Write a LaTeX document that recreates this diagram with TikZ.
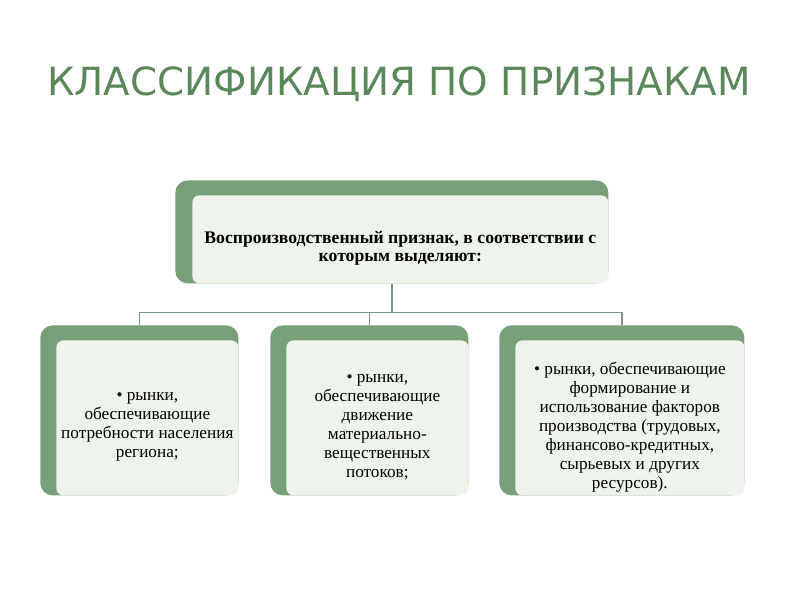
\documentclass[tikz,border=0pt]{standalone}
\usepackage{fontspec}
\setmainfont{Liberation Serif}
\newfontfamily\titlefont{DejaVu Sans}
\definecolor{sage}{HTML}{78A078}
\definecolor{pale}{HTML}{EEF3EC}
\definecolor{titlegreen}{HTML}{5A885A}
\definecolor{wire}{HTML}{7A9680}
\tikzset{
	back/.style={fill=sage, rounded corners=7pt, inner sep=0pt, anchor=north west},
	front/.style={fill=pale, rounded corners=4pt, inner sep=0pt, anchor=south east},
	label/.style={align=center, inner sep=0pt, yshift=-9*0.02cm, font=\fontsize{9.8}{10.8}\selectfont},
	wire/.style={draw=wire, line width=0.8pt}
}
\begin{document}
\begin{tikzpicture}[x=0.02cm, y=-0.02cm]
	\useasboundingbox (0,0) rectangle (800,600);
	\node (title) at (399,84) {\titlefont\fontsize{22.1}{26}\selectfont\color{titlegreen}КЛАССИФИКАЦИЯ ПО ПРИЗНАКАМ};
	
	\node[back, minimum width=433*0.02cm, minimum height=103*0.02cm] (top) at (175,180) {};
	\node[front, minimum width=416*0.02cm, minimum height=88*0.02cm] (topf) at (top.south east) {};
	\node[label, font=\fontsize{10.05}{10.05}\selectfont\bfseries] (topt) at (topf.center) {Воспроизводственный признак, в соответствии с\\ которым выделяют:};
	
	\node[back, minimum width=198*0.02cm, minimum height=170*0.02cm] (b1) at (40,325) {};
	\node[front, minimum width=182*0.02cm, minimum height=155*0.02cm] (f1) at (b1.south east) {};
	\node[label] (t1) at (f1.center) {• рынки,\\ обеспечивающие\\ потребности населения\\ региона;};
	
	\node[back, minimum width=198*0.02cm, minimum height=170*0.02cm] (b2) at (270,325) {};
	\node[front, minimum width=182*0.02cm, minimum height=155*0.02cm] (f2) at (b2.south east) {};
	\node[label] (t2) at (f2.center) {• рынки,\\ обеспечивающие\\ движение\\ материально-\\ вещественных\\ потоков;};
	
	\node[back, minimum width=245*0.02cm, minimum height=170*0.02cm] (b3) at (499,325) {};
	\node[front, minimum width=229*0.02cm, minimum height=155*0.02cm] (f3) at (b3.south east) {};
	\node[label] (t3) at (f3.center) {• рынки, обеспечивающие\\ формирование и\\ использование факторов\\ производства (трудовых,\\ финансово-кредитных,\\ сырьевых и других\\ ресурсов).};
	
	\draw[wire] (top.south) -- ++(0,29) coordinate (bus);
	\draw[wire] (bus) -| (b1.north);
	\draw[wire] (bus) -| (b2.north);
	\draw[wire] (bus) -| (b3.north);
\end{tikzpicture}
\end{document}
